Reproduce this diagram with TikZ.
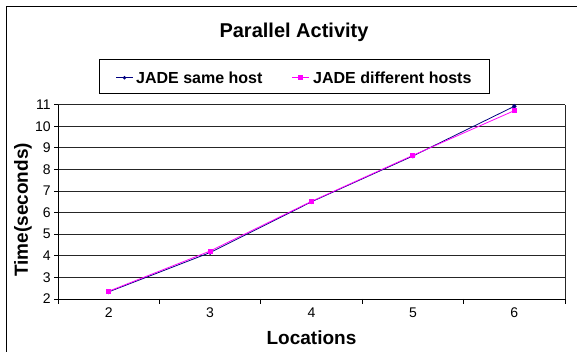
\documentclass[tikz,border=0pt]{standalone}
\usepackage{fontspec}
\setmainfont{Liberation Sans}
\usetikzlibrary{shapes.geometric,calc}
\definecolor{samehost}{RGB}{0,0,128}
\definecolor{diffhost}{RGB}{255,0,255}
\tikzset{
	gridline/.style={line width=.7pt,black!85},
	samemark/.style={diamond,fill=samehost,inner sep=0pt,minimum size=5pt},
	diffmark/.style={rectangle,fill=diffhost,inner sep=0pt,minimum size=5pt},
	bigbold/.style={font=\bfseries\fontsize{19}{22}\selectfont},
	keytext/.style={anchor=base west,inner sep=0pt,font=\bfseries\fontsize{16}{18}\selectfont},
}
\begin{document}
\begin{tikzpicture}[x=1pt,y=1pt,font=\fontsize{14}{16}\selectfont]
	\useasboundingbox (0,0) rectangle (577,352);
	\clip (0,0) rectangle (577,352);
	\draw[line width=1pt] (6,-20) rectangle (600,345);
	\node[anchor=base,inner sep=0pt,font=\bfseries\fontsize{20}{24}\selectfont] (title) at (294,314) {Parallel Activity};
	\node[draw,line width=.8pt,minimum width=390,minimum height=34] (legend) at (294,276) {};
	\path (116,274.3) coordinate (ka) (133,274.3) coordinate (kb)
	(292,274.3) coordinate (kc) (309,274.3) coordinate (kd);
	\draw[samehost,line width=.8pt] (ka)--(kb);
	\node[samemark,minimum size=4pt] at ($(ka)!.5!(kb)$) {};
	\draw[diffhost,line width=.8pt] (kc)--(kd);
	\node[diffmark] at ($(kc)!.5!(kd)$) {};
	\node[keytext] (same) at (136,268.7) {JADE same host};
	\node[keytext] (diff) at (313,268.7) {JADE different hosts};
	\begin{scope}[shift={(58,53)},x=101.4pt,y=21.6pt]
	\path (0,0) coordinate (O) (5,0) coordinate (X) (0,9) coordinate (Y) (5,9) coordinate (E);
	\foreach \v in {3,...,11}
		\draw[gridline] (0,\v-2) -- (5,\v-2);
	\draw[gridline] (X)--(E);
	\draw[line width=.8pt] (Y)--(O)--(X);
	\foreach \v in {2,...,11}
		\draw[line width=.8pt] (0,\v-2) -- ++(-4pt,0) node[left,inner sep=3pt] (y\v) {\v};
	\foreach \k in {0,...,5}
		\draw[line width=.8pt] (\k,0) -- ++(0,-5pt);
	\foreach \c [count=\i] in {2,...,6}
		\node (x\c) at ([yshift=-14pt]\i-0.5,0) {\c};
	\node[bigbold,anchor=base,inner sep=0pt] (xlab) at ([yshift=-46pt]2.5,0) {Locations};
	\node[bigbold,rotate=90] (ylab) at ([xshift=-35pt,yshift=-8pt]0,4.5) {Time(seconds)};
	\foreach \s/\d [count=\i] in {2.33/2.36,4.15/4.22,6.5/6.52,8.62/8.65,10.92/10.72}
		\path (\i-0.5,\s-2) coordinate (s\i) (\i-0.5,\d-2) coordinate (d\i);
	\draw[samehost,line width=.8pt] (s1)--(s2)--(s3)--(s4)--(s5);
	\foreach \i in {1,...,5}
		\node[samemark] at (s\i) {};
	\draw[diffhost,line width=.8pt] (d1)--(d2)--(d3)--(d4)--(d5);
	\foreach \i in {1,...,5}
		\node[diffmark] at (d\i) {};
	\end{scope}
\end{tikzpicture}
\end{document}
